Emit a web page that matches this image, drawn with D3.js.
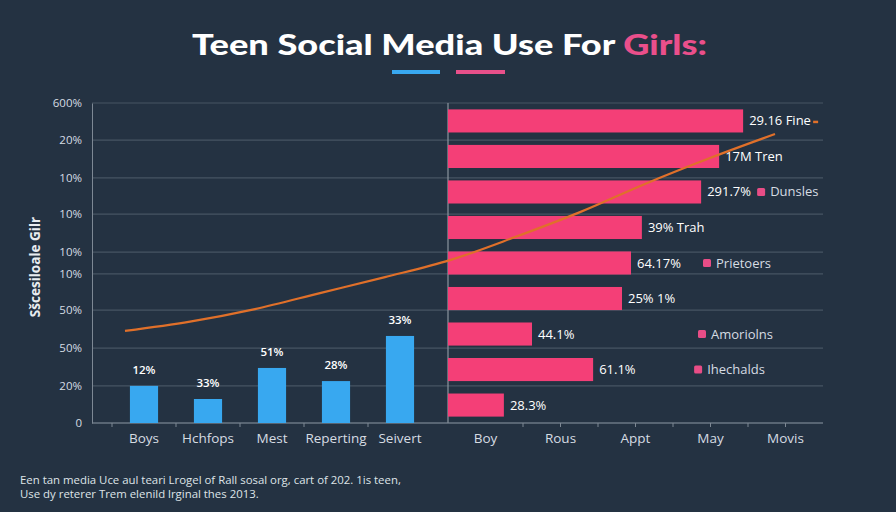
<!DOCTYPE html>
<html><head><meta charset="utf-8">
<script src="https://cdn.jsdelivr.net/npm/d3@7"></script>
<style>html,body{margin:0;padding:0;background:#243242;}svg{display:block;}</style>
</head><body>
<script>
// ---- data ----
const leftCategories = ["Boys","Hchfops","Mest","Reperting","Seivert"];
const leftValues = [11.6, 7.5, 17.2, 13.1, 27.2];
const leftLabels = ["12%","33%","51%","28%","33%"];
const yTickValues = [0, 11.6, 23.4, 35.3, 46.6, 53.4, 65.3, 76.6, 88.4, 100];
const yTickLabels = ["0","20%","50%","50%","10%","10%","10%","10%","20%","600%"];
const rightValues = [78.7, 72.3, 67.5, 51.7, 48.8, 46.4, 22.4, 38.7, 14.9];
const rightLabels = ["29.16 Fine","17M Tren","291.7%","39% Trah","64.17%","25% 1%","44.1%","61.1%","28.3%"];
const rightLegend = [null,null,"Dunsles",null,"Prietoers",null,"Amoriolns","Ihechalds",null];
const rightXCategories = ["Boy","Rous","Appt","May","Movis"];
const trendValues = [28.8, 31.7, 35.6, 40.6, 45.6, 50.9, 58.1, 65.9, 74.7, 82.8, 90.3];
const footerLines = ["Een tan media Uce aul teari Lrogel of Rall sosal org, cart of 202. 1is teen,",
                     "Use dy reterer Trem elenild lrginal thes 2013."];

const W=896,H=512;
const C={bg:"#243242",grid:"#465463",axis:"#7d8894",text:"#d6dce2",blue:"#38a8f0",pink:"#f43f77",orange:"#e0702a"};
const font="'Open Sans', 'Noto Sans', sans-serif";

const svg=d3.select("body").append("svg").attr("width",W).attr("height",H).style("background",C.bg);

// title
const title=svg.append("text").attr("x",192).attr("y",55)
  .attr("textLength",515).attr("lengthAdjust","spacingAndGlyphs")
  .attr("font-family","Lato, 'Open Sans', sans-serif").attr("font-weight",900).attr("font-size",29).attr("fill","#ffffff");
title.append("tspan").text("Teen Social Media Use For ");
title.append("tspan").attr("fill","#ea4f8b").text("Girls:");
svg.append("rect").attr("x",392).attr("y",70).attr("width",48).attr("height",4).attr("fill",C.blue);
svg.append("rect").attr("x",456).attr("y",70).attr("width",49).attr("height",4).attr("fill","#e8508a");

// scales
const plotTop=103, plotBottom=423, plotLeft=92, divider=448, plotRight=823;
const y=d3.scaleLinear().domain([0,100]).range([plotBottom,plotTop]);
const xL=d3.scaleBand().domain(leftCategories).range([112,432]).paddingInner(0.56).paddingOuter(0.28);
const xR=d3.scaleLinear().domain([0,100]).range([divider,plotRight]);
const xRcat=d3.scaleBand().domain(rightXCategories).range([divider,plotRight]);
const yR=d3.scaleBand().domain(d3.range(rightValues.length)).range([plotTop,plotBottom]).paddingInner(0.35).paddingOuter(0.18);
const xT=d3.scaleLinear().domain([0,trendValues.length-1]).range([125,775]);

// gridlines
svg.append("g").selectAll("line").data(yTickValues).join("line")
  .attr("x1",plotLeft).attr("x2",plotRight).attr("y1",d=>y(d)).attr("y2",d=>y(d))
  .attr("stroke",C.grid).attr("stroke-width",1.2);

// y axis
const yAxis=d3.axisLeft(y).tickValues(yTickValues).tickFormat((d,i)=>yTickLabels[i]).tickSize(0).tickPadding(10);
const ga=svg.append("g").attr("transform",`translate(${plotLeft},0)`).call(yAxis);
ga.select(".domain").attr("stroke",C.axis);
ga.selectAll("text").attr("font-family",font).attr("font-size",11.5).attr("fill",C.text);

// divider
svg.append("line").attr("x1",divider).attr("x2",divider).attr("y1",plotTop).attr("y2",plotBottom).attr("stroke","#8a949e").attr("stroke-width",1.2);

// bottom axis line and ticks
svg.append("line").attr("x1",plotLeft).attr("x2",plotRight).attr("y1",plotBottom).attr("y2",plotBottom).attr("stroke",C.axis);
const lTicks=leftCategories.map((c,i)=>xL(c)-xL.step()*xL.paddingInner()/2);
svg.append("g").selectAll("line").data(lTicks).join("line")
  .attr("x1",d=>d).attr("x2",d=>d).attr("y1",plotBottom).attr("y2",plotBottom+4).attr("stroke",C.axis);
svg.append("g").selectAll("line").data(d3.range(2,10)).join("line")
  .attr("x1",d=>xR(d*10)).attr("x2",d=>xR(d*10)).attr("y1",plotBottom).attr("y2",plotBottom+4).attr("stroke",C.axis);

// left axis title
svg.append("text").attr("transform","translate(40,267) rotate(-90)").attr("text-anchor","middle")
  .attr("font-family",font).attr("font-weight",700).attr("font-size",13.5).attr("fill","#e8ecf0").text("Sšcesiloale Gilr");

// left bars
svg.append("g").selectAll("rect").data(leftValues).join("rect")
  .attr("x",(d,i)=>xL(leftCategories[i])).attr("width",xL.bandwidth())
  .attr("y",d=>y(d)).attr("height",d=>y(0)-y(d)).attr("fill",C.blue);
svg.append("g").selectAll("text").data(leftValues).join("text")
  .attr("x",(d,i)=>xL(leftCategories[i])+xL.bandwidth()/2).attr("y",d=>y(d)-12)
  .attr("text-anchor","middle").attr("font-family",font).attr("font-weight",600).attr("font-size",11.5).attr("fill","#ffffff")
  .text((d,i)=>leftLabels[i]);
svg.append("g").selectAll("text").data(leftCategories).join("text")
  .attr("x",d=>xL(d)+xL.bandwidth()/2).attr("y",443).attr("text-anchor","middle")
  .attr("font-family",font).attr("font-size",13.5).attr("fill",C.text).text(d=>d);

// right bars
svg.append("g").selectAll("rect").data(rightValues).join("rect")
  .attr("x",xR(0)).attr("y",(d,i)=>yR(i)).attr("height",yR.bandwidth())
  .attr("width",d=>xR(d)-xR(0)).attr("fill",C.pink);
svg.append("g").selectAll("text").data(rightValues).join("text")
  .attr("x",d=>xR(d)+6).attr("y",(d,i)=>yR(i)+yR.bandwidth()/2+4.5)
  .attr("font-family",font).attr("font-size",13).attr("fill","#ffffff").text((d,i)=>rightLabels[i]);
// legend-ish markers
const legRows=rightLegend.map((t,i)=>({t,i})).filter(d=>d.t);
const legOffset={2:60,4:76,6:170,7:105};
const lg=svg.append("g").selectAll("g").data(legRows).join("g")
  .attr("transform",d=>`translate(${xR(rightValues[d.i])+legOffset[d.i]},${yR(d.i)+yR.bandwidth()/2})`);
lg.append("rect").attr("x",-4).attr("y",-4).attr("width",8).attr("height",8).attr("rx",1.5).attr("fill","#e84d86");
lg.append("text").attr("x",9).attr("y",4.5).attr("font-family",font).attr("font-size",13).attr("fill",C.text).text(d=>d.t);
// small orange dash after first label
svg.append("line").attr("x1",xR(rightValues[0])+70).attr("x2",xR(rightValues[0])+75)
  .attr("y1",yR(0)+yR.bandwidth()/2+1).attr("y2",yR(0)+yR.bandwidth()/2+1).attr("stroke",C.orange).attr("stroke-width",2.5);

svg.append("g").selectAll("text").data(rightXCategories).join("text")
  .attr("x",d=>xRcat(d)+xRcat.bandwidth()/2).attr("y",443).attr("text-anchor","middle")
  .attr("font-family",font).attr("font-size",13.5).attr("fill",C.text).text(d=>d);

// trend line
const line=d3.line().x((d,i)=>xT(i)).y(d=>y(d)).curve(d3.curveMonotoneX);
svg.append("path").datum(trendValues).attr("d",line).attr("fill","none")
  .attr("stroke",C.orange).attr("stroke-width",2.2);

// footer
svg.append("g").selectAll("text").data(footerLines).join("text")
  .attr("x",20).attr("y",(d,i)=>484+i*14).attr("font-family",font).attr("font-size",11.4)
  .attr("fill","#dfe4e8").text(d=>d);
</script>
</body></html>
